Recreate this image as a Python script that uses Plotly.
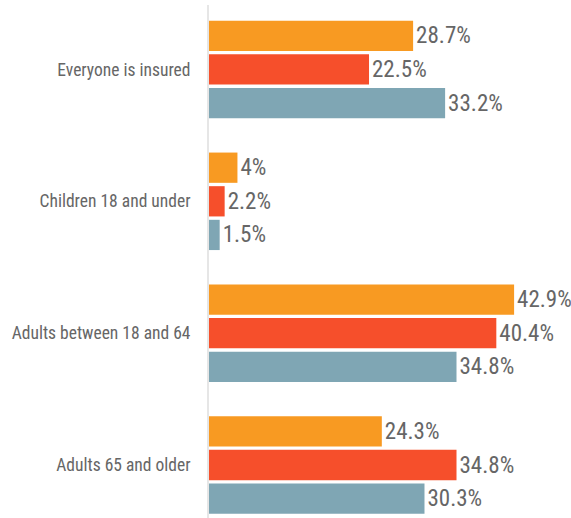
import plotly.graph_objects as go

categories = ["Everyone is insured", "Children 18 and under",
              "Adults between 18 and 64", "Adults 65 and older"]
series_a = [28.7, 4, 42.9, 24.3]
series_b = [22.5, 2.2, 40.4, 34.8]
series_c = [33.2, 1.5, 34.8, 30.3]
colors = ["#F89A22", "#F64F2B", "#7FA6B4"]

FONT = "Roboto Condensed, Liberation Sans Narrow, Roboto, sans-serif"

fig = go.Figure()
for vals, col in zip([series_a, series_b, series_c], colors):
    fig.add_trace(go.Bar(
        y=categories, x=vals, orientation="h",
        marker=dict(color=col, line=dict(width=0)),
        text=vals, texttemplate="%{x}%", textposition="outside",
        textfont=dict(family=FONT, size=23, color="#666666"),
        cliponaxis=False, showlegend=False,
    ))

fig.update_layout(
    width=571, height=518,
    margin=dict(l=209, r=0, t=5, b=0),
    barmode="group", bargap=0.235, bargroupgap=0.1,
    plot_bgcolor="white", paper_bgcolor="white",
    font=dict(family=FONT, size=17.5, color="#666666"),
    xaxis=dict(range=[0, 50.9], showgrid=False, zeroline=False,
               showticklabels=False, showline=False),
    yaxis=dict(type="category", range=[3.402, -0.489],
               showgrid=False, zeroline=False,
               showline=True, linecolor="#e6e6e6", linewidth=2,
               ticks="outside", ticklen=13, tickcolor="rgba(0,0,0,0)",
               tickfont=dict(family=FONT, size=17.5, color="#666666")),
)

fig.write_html("out.html")
